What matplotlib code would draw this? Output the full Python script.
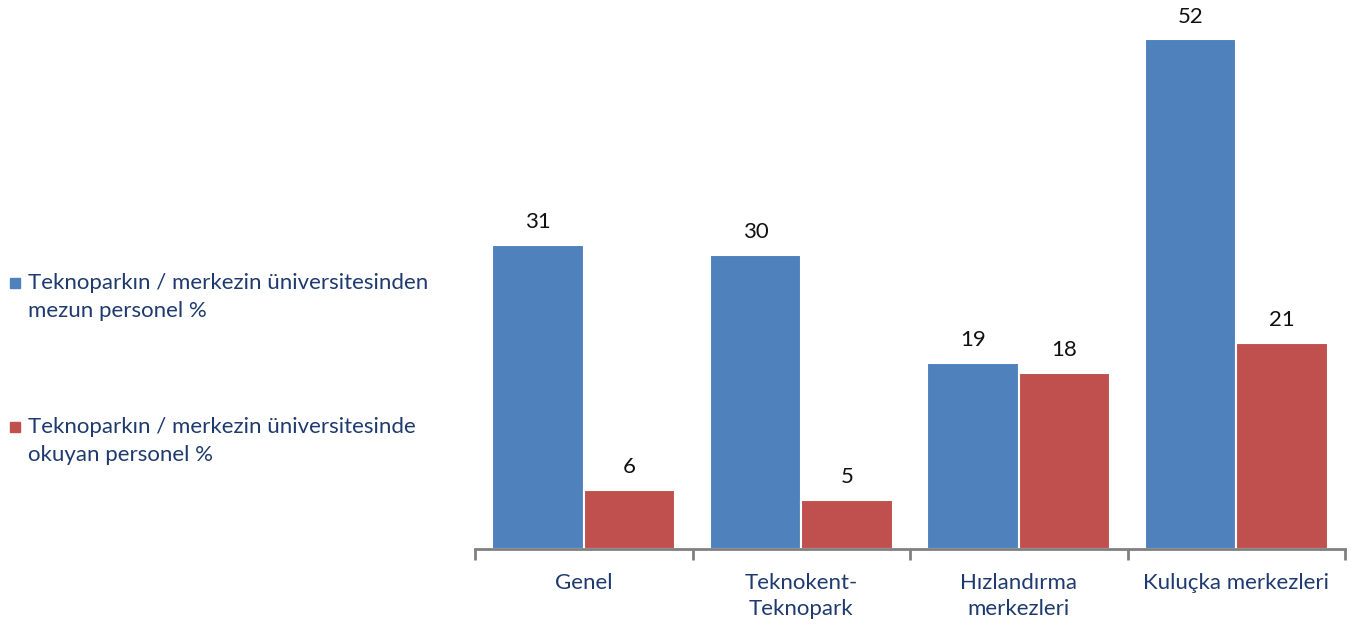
import matplotlib.pyplot as plt
from matplotlib.patches import Rectangle
import numpy as np

categories = ['Genel', 'Teknokent-\nTeknopark', 'Hızlandırma\nmerkezleri', 'Kuluçka merkezleri']
mezun = [31, 30, 19, 52]
okuyan = [6, 5, 18, 21]
series_names = ['Teknoparkın / merkezin üniversitesinden\nmezun personel %',
                'Teknoparkın / merkezin üniversitesinde\nokuyan personel %']

blue = '#4F81BD'
red = '#C0504D'
navy = '#1F3A6E'

plt.rcParams['font.family'] = ['Lato', 'DejaVu Sans']

W, H = 1354, 626
fig = plt.figure(figsize=(W / 100, H / 100), dpi=100)
ax = fig.add_axes([475 / W, 77 / H, 870 / W, 539 / H])

x = np.arange(len(categories))
w = 0.42
b1 = ax.bar(x - w / 2, mezun, w, color=blue, edgecolor='white', linewidth=1.5)
b2 = ax.bar(x + w / 2, okuyan, w, color=red, edgecolor='white', linewidth=1.5)

for bars in (b1, b2):
    for rect in bars:
        h = rect.get_height()
        ax.text(rect.get_x() + rect.get_width() / 2, h + 1.3, f'{h:g}',
                ha='center', va='bottom', fontsize=16, color='#111111')

ax.set_xlim(-0.5, len(categories) - 0.5)
ax.set_ylim(0, 55)
ax.set_yticks([])
for s in ('top', 'right', 'left'):
    ax.spines[s].set_visible(False)
ax.spines['bottom'].set_color('#808080')
ax.spines['bottom'].set_linewidth(2)

# ticks at category boundaries, labels centred below the bars
ax.set_xticks(np.arange(len(categories) + 1) - 0.5)
ax.set_xticklabels([])
ax.tick_params(axis='x', length=8, width=2, color='#808080')
ax.set_xticks(x, minor=True)
ax.set_xticklabels(categories, minor=True, fontsize=16, color=navy, linespacing=1.4)
ax.tick_params(axis='x', which='minor', length=0, pad=17)

# legend drawn by hand on the left
for i, (name, col) in enumerate(zip(series_names, (blue, red))):
    y0 = 283 + i * 144
    fig.patches.append(Rectangle((10 / W, 1 - (y0 + 5) / H), 10 / W, 10 / H,
                                 transform=fig.transFigure, color=col))
    for j, line in enumerate(name.split('\n')):
        fig.text(28 / W, 1 - (y0 + j * 28) / H, line, fontsize=16, color=navy,
                 ha='left', va='center')

fig.savefig('out.png', dpi=100)
